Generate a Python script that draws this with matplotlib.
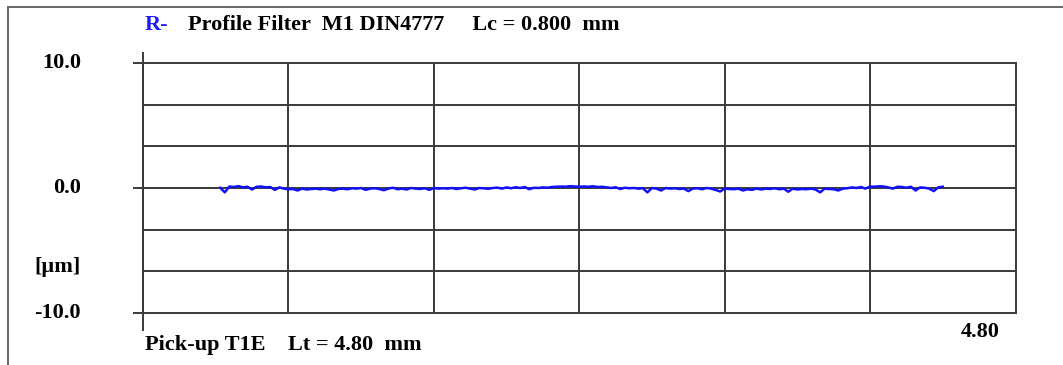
import numpy as np
import matplotlib
matplotlib.use("Agg")
import matplotlib.pyplot as plt
from matplotlib.lines import Line2D

# ---- data ----
x_start_mm = 0.425
x_end_mm = 4.40
profile_um = [
    0.02, -0.35, 0.12, 0.08, 0.15, 0.05, 0.10, -0.12, 0.10, 0.12,
    0.05, 0.08, -0.15, 0.05, -0.05, -0.10, -0.08, -0.20, -0.05, -0.12,
    -0.08, -0.05, -0.10, -0.05, -0.12, -0.20, -0.08, -0.05, -0.10, -0.02,
    -0.05, 0.00, -0.15, -0.05, -0.02, -0.08, -0.18, -0.05, 0.02, -0.10,
    -0.05, -0.12, 0.00, -0.05, -0.08, -0.02, -0.15, 0.00, -0.05, -0.02,
    -0.05, 0.00, -0.08, -0.02, 0.02, -0.05, -0.12, 0.00, -0.03, -0.06,
    0.00, 0.03, -0.05, 0.05, -0.02, 0.06, 0.00, 0.08, -0.10, 0.02,
    0.00, 0.05, 0.02, 0.08, 0.10, 0.12, 0.10, 0.15, 0.12, 0.10,
    0.12, 0.10, 0.14, 0.08, 0.10, 0.05, 0.00, 0.06, -0.08, 0.02,
    -0.02, 0.00, -0.05, -0.02, -0.35, 0.00, -0.05, -0.20, 0.00, -0.05,
    -0.02, -0.08, -0.05, -0.25, -0.05, -0.02, -0.10, 0.00, -0.05, -0.15,
    -0.28, -0.05, -0.08, -0.10, -0.05, -0.20, -0.10, -0.15, -0.05, -0.12,
    -0.05, -0.08, -0.02, -0.10, -0.05, -0.30, -0.05, -0.12, -0.08, -0.10,
    -0.05, -0.12, -0.35, -0.05, -0.08, -0.10, -0.20, -0.05, -0.02, 0.05,
    0.00, 0.08, -0.05, 0.12, 0.10, 0.14, 0.12, 0.05, -0.05, 0.10,
    0.08, 0.02, 0.10, -0.20, 0.05, 0.02, -0.05, -0.25, 0.05, 0.10,
]
x_limits = [0.0, 4.80]
y_limits = [-10.0, 10.0]
y_labels = ["10.0", "0.0", "-10.0"]
y_label_values = [10.0, 0.0, -10.0]
unit_label = "[\u00b5m]"
x_end_label = "4.80"
title_prefix = "R-"
title_text = "Profile Filter  M1 DIN4777     Lc = 0.800  mm"
footer_text = "Pick-up T1E    Lt = 4.80  mm"

W, H = 1063, 365
fig = plt.figure(figsize=(W / 100, H / 100), dpi=100)
fig.patch.set_facecolor("white")

def fx(px):
    return px / W

def fy(py):
    return 1 - py / H

# axes
left, right, top, bottom = 143, 1015.5, 63, 313
ax = fig.add_axes([fx(left), fy(bottom), fx(right) - fx(left), (bottom - top) / H])
x = np.linspace(x_start_mm, x_end_mm, len(profile_um))
ax.plot(x, profile_um, color="#1010ff", lw=1.8, zorder=3)
ax.set_xlim(x_limits)
ax.set_ylim(y_limits)

gc = "#3a3a3a"
for s in ax.spines.values():
    s.set_color(gc)
    s.set_linewidth(1.4)
for xv in np.arange(0.8, 4.8, 0.8):
    ax.axvline(xv, color=gc, lw=1.4, zorder=1)
for yv in [-20 / 3, -10 / 3, 0, 10 / 3, 20 / 3]:
    ax.axhline(yv, color=gc, lw=1.4, zorder=1)

ax.set_xticks([])
ax.set_yticks(y_label_values)
ax.set_yticklabels([])
ax.tick_params(axis="y", length=7.5, width=1.4, color=gc, direction="out")

# y-axis extension above and below
ax.add_line(Line2D([0, 0], [-0.068, 1.04], transform=ax.transAxes,
                   color=gc, lw=1.4, clip_on=False))

# outer frame (top and left edges)
fig.add_artist(Line2D([fx(8), 1.0], [fy(7), fy(7)], color="#666666", lw=1.4))
fig.add_artist(Line2D([fx(8), fx(8)], [fy(7), 0.0], color="#666666", lw=1.4))

font = dict(family="Liberation Serif", weight="bold", size=16)

fig.text(fx(145), fy(25), title_prefix, color="#1a1aff", ha="left", va="center", **font)
fig.text(fx(188), fy(25), title_text, color="black", ha="left", va="center", **font)

label_y = {"10.0": 63, "0.0": 188, "-10.0": 313}
for lab in y_labels:
    fig.text(fx(81), fy(label_y[lab]), lab, ha="right", va="center", color="black", **font)
fig.text(fx(81), fy(267), unit_label, ha="right", va="center", color="black", **font)

fig.text(fx(145), fy(345), footer_text, ha="left", va="center", color="black", **font)
fig.text(fx(1000), fy(332), x_end_label, ha="right", va="center", color="black", **font)

fig.savefig("out.png", dpi=100)
